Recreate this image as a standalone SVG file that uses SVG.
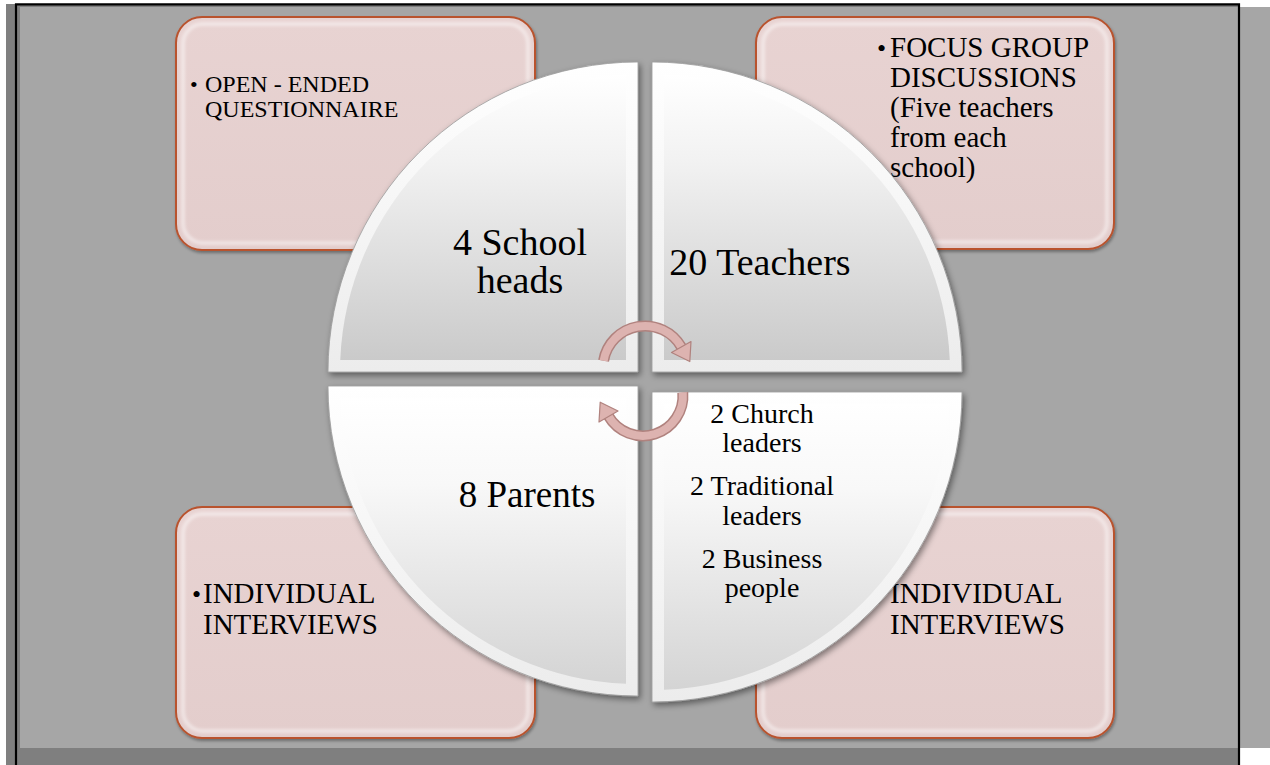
<svg xmlns="http://www.w3.org/2000/svg" width="1270" height="765" viewBox="0 0 1270 765">
<style>
.t{font-family:"Liberation Serif","Times New Roman",serif;fill:#000}
.box{fill:url(#boxG);stroke:#b9532e;stroke-width:2}
.boxhi{fill:none;stroke:#fff;stroke-opacity:.45;stroke-width:4}
.band{fill:url(#bandG);stroke:#9a9a9a;stroke-width:.8}
.faceT{fill:url(#faceTG)}
.faceB{fill:url(#faceBG)}
.arO{fill:none;stroke:#b0827e;stroke-width:11}
.arI{fill:none;stroke:#ddb3b0;stroke-width:8}
.arH{fill:#ddb3b0;stroke:#b0827e;stroke-width:1.2;stroke-linejoin:round}
</style>
<defs>
<linearGradient id="boxG" x1="0" y1="0" x2="0" y2="1">
<stop offset="0" stop-color="#e8d3d2"/><stop offset="1" stop-color="#e3cdcc"/>
</linearGradient>
<linearGradient id="bandG" x1="0" y1="0" x2="0" y2="1">
<stop offset="0" stop-color="#ffffff"/><stop offset="1" stop-color="#ececec"/>
</linearGradient>
<linearGradient id="faceTG" x1="0" y1="0" x2="0" y2="1">
<stop offset="0" stop-color="#ffffff"/><stop offset="0.3" stop-color="#f2f2f2"/><stop offset="1" stop-color="#cacaca"/>
</linearGradient>
<linearGradient id="faceBG" x1="0" y1="0" x2="0" y2="1">
<stop offset="0" stop-color="#ffffff"/><stop offset="0.3" stop-color="#f8f8f8"/><stop offset="1" stop-color="#d4d4d4"/>
</linearGradient>
<filter id="sh" x="-10%" y="-10%" width="130%" height="130%">
<feDropShadow dx="2" dy="3" stdDeviation="3" flood-color="#000" flood-opacity="0.45"/>
</filter>
<filter id="bsh" x="-5%" y="-5%" width="115%" height="115%">
<feDropShadow dx="1" dy="2" stdDeviation="1.5" flood-color="#000" flood-opacity="0.35"/>
</filter>
<filter id="soft"><feGaussianBlur stdDeviation="1.5"/></filter>
</defs>

<g id="frame">
<rect x="6" y="4" width="1234" height="761" fill="#7f7f7f"/>
<rect x="20" y="7" width="1250" height="741" fill="#a6a6a6"/>
<path d="M16 765 V4.3 H1239 V765" fill="none" stroke="#000" stroke-width="2.2"/>
</g>

<g id="box-tl">
<rect class="box" x="176" y="17" width="359" height="233" rx="26" filter="url(#bsh)"/>
<rect class="boxhi" x="183" y="24" width="345" height="219" rx="20" filter="url(#soft)"/>
<text class="t" x="190" y="92" font-size="22">•</text>
<text class="t" font-size="24"><tspan x="205" y="92">OPEN - ENDED</tspan><tspan x="205" y="117">QUESTIONNAIRE</tspan></text>
</g>

<g id="box-tr">
<rect class="box" x="756" y="17" width="358" height="232" rx="26" filter="url(#bsh)"/>
<rect class="boxhi" x="763" y="24" width="344" height="218" rx="20" filter="url(#soft)"/>
<text class="t" x="877" y="57" font-size="26">•</text>
<text class="t" font-size="29"><tspan x="890" y="57">FOCUS GROUP</tspan><tspan x="890" y="87">DISCUSSIONS</tspan><tspan x="890" y="117">(Five teachers</tspan><tspan x="890" y="147">from each</tspan><tspan x="890" y="177">school)</tspan></text>
</g>

<g id="box-bl">
<rect class="box" x="176" y="507" width="359" height="231" rx="26" filter="url(#bsh)"/>
<rect class="boxhi" x="183" y="514" width="345" height="217" rx="20" filter="url(#soft)"/>
<text class="t" x="192" y="603" font-size="26">•</text>
<text class="t" font-size="29"><tspan x="203" y="603">INDIVIDUAL</tspan><tspan x="203" y="634">INTERVIEWS</tspan></text>
</g>

<g id="box-br">
<rect class="box" x="756" y="507" width="358" height="231" rx="26" filter="url(#bsh)"/>
<rect class="boxhi" x="763" y="514" width="344" height="217" rx="20" filter="url(#soft)"/>
<text class="t" font-size="29"><tspan x="890" y="603">INDIVIDUAL</tspan><tspan x="890" y="634">INTERVIEWS</tspan></text>
</g>

<g id="quarter-tl">
<path class="band" d="M638 372 L328 372 A310 310 0 0 1 638 62 Z" filter="url(#sh)"/>
<path class="faceT" d="M626 360 L340.24 360 A298 298 0 0 1 626 74.24 Z"/>
<text class="t" font-size="38" text-anchor="middle"><tspan x="520" y="255">4 School</tspan><tspan x="520" y="293">heads</tspan></text>
</g>

<g id="quarter-tr">
<path class="band" d="M652 372 L652 62 A310 310 0 0 1 962 372 Z" filter="url(#sh)"/>
<path class="faceT" d="M664 360 L664 74.24 A298 298 0 0 1 949.76 360 Z"/>
<text class="t" x="760" y="275" font-size="38" text-anchor="middle">20 Teachers</text>
</g>

<g id="quarter-bl">
<path class="band" d="M638 386 L638 696 A310 310 0 0 1 328 386 Z" filter="url(#sh)"/>
<path class="faceB" d="M626 398 L626 683.76 A298 298 0 0 1 340.24 398 Z"/>
<text class="t" x="527" y="507" font-size="37" text-anchor="middle">8 Parents</text>
</g>

<g id="quarter-br">
<path class="band" d="M652 392 L962 392 A310 310 0 0 1 652 702 Z" filter="url(#sh)"/>
<path class="faceB" d="M664 404 L949.76 404 A298 298 0 0 1 664 689.76 Z"/>
<text class="t" font-size="28" text-anchor="middle"><tspan x="762" y="423">2 Church</tspan><tspan x="762" y="452">leaders</tspan><tspan x="762" y="495">2 Traditional</tspan><tspan x="762" y="525">leaders</tspan><tspan x="762" y="568">2 Business</tspan><tspan x="762" y="597">people</tspan></text>
</g>

<g id="connectors">
<path class="arO" d="M603.6 360.7 A42 42 0 0 1 681.4 347"/>
<path class="arI" d="M603.6 360.7 A42 42 0 0 1 681.4 347"/>
<polygon class="arH" points="689.8,361.5 691,341.5 671.5,352.5"/>
<path class="arO" d="M682.8 392.5 A40 40 0 0 1 608.4 416"/>
<path class="arI" d="M682.8 392.5 A40 40 0 0 1 608.4 416"/>
<polygon class="arH" points="600.2,402.2 618,411 599,422"/>
</g>
</svg>
